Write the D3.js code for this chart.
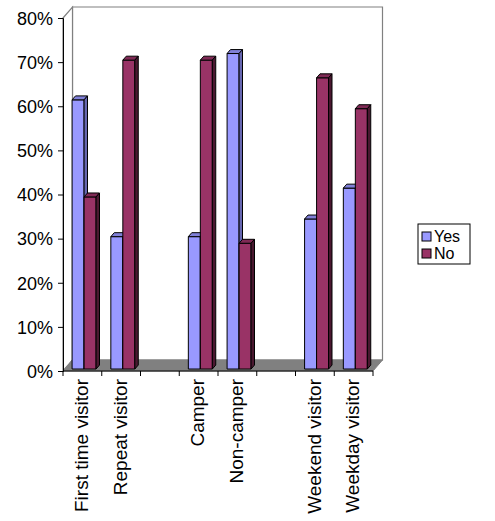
<!DOCTYPE html>
<html>
<head>
<meta charset="utf-8">
<script src="https://cdn.jsdelivr.net/npm/d3@7"></script>
<style>
  html, body { margin: 0; padding: 0; background: #fff; }
  svg { display: block; font-family: "Liberation Sans", Arial, sans-serif; }
</style>
</head>
<body>
<svg id="chart" width="495" height="521"></svg>
<script>
// Visitor groups; empty slots separate the three pairs
const categories = ["First time visitor", "Repeat visitor", "", "Camper", "Non-camper", " ", "Weekend visitor", "Weekday visitor"];
const seriesNames = ["Yes", "No"];
const yesValues = [0.61, 0.30, null, 0.30, 0.715, null, 0.34, 0.41];
const noValues  = [0.39, 0.70, null, 0.70, 0.285, null, 0.66, 0.59];
const tickValues = [0, 0.1, 0.2, 0.3, 0.4, 0.5, 0.6, 0.7, 0.8];

const colors = {
  Yes: { front: "#9999FF", top: "#8080D8", side: "#6666B0" },
  No:  { front: "#993366", top: "#7F2A55", side: "#4A1830" }
};

const svg = d3.select("#chart");

// Front plane of the 3D box
const x0 = 63, x1 = 373, yBase = 371;
const x = d3.scaleBand().domain(categories).range([x0, x1]).padding(0);
const y = d3.scaleLinear().domain([0, 0.8]).range([yBase, 18]);

// Depth projection: z in [0,1] shifts right and up
const DX = 9.5, DY = 11;
const P = (px, py, z) => [px + z * DX, py - z * DY];
const poly = pts => pts.map(p => p.join(",")).join(" ");

// Walls and floor
const g = svg.append("g");
const yTop = y(0.8);
g.append("polygon")
  .attr("points", poly([P(x0, yTop, 1), P(x1, yTop, 1), P(x1, yBase, 1), P(x0, yBase, 1)]))
  .attr("fill", "#fff").attr("stroke", "#808080").attr("stroke-width", 1.2);
g.append("polygon")
  .attr("points", poly([P(x0, yTop, 0), P(x0, yTop, 1), P(x0, yBase, 1), P(x0, yBase, 0)]))
  .attr("fill", "#fff").attr("stroke", "#808080").attr("stroke-width", 1.2);
g.append("polygon")
  .attr("points", poly([P(x0, yBase, 0), P(x1, yBase, 0), P(x1, yBase, 1), P(x0, yBase, 1)]))
  .attr("fill", "#808080").attr("stroke", "#808080").attr("stroke-width", 1);

// Bars
const barW = 12;
const zFront = 0.18, zBack = 0.54;
const inner = d3.scaleBand().domain(seriesNames)
  .range([0, x.bandwidth()])
  .paddingInner(0)
  .paddingOuter((x.bandwidth() - 2 * barW) / (2 * barW));

const bars = [];
categories.forEach((c, i) => {
  [["Yes", yesValues[i]], ["No", noValues[i]]].forEach(([s, v]) => {
    if (v == null) return;
    bars.push({ c, s, v });
  });
});

const barG = svg.append("g").attr("stroke", "#000").attr("stroke-width", 1).attr("stroke-linejoin", "round");
bars.forEach(d => {
  const bx = x(d.c) + inner(d.s);
  const bw = inner.bandwidth();
  const yt = y(d.v), yb = y(0);
  const c = colors[d.s];
  // front face
  barG.append("polygon")
    .attr("points", poly([P(bx, yt, zFront), P(bx + bw, yt, zFront), P(bx + bw, yb, zFront), P(bx, yb, zFront)]))
    .attr("fill", c.front);
  // top face
  barG.append("polygon")
    .attr("points", poly([P(bx, yt, zFront), P(bx + bw, yt, zFront), P(bx + bw, yt, zBack), P(bx, yt, zBack)]))
    .attr("fill", c.top);
  // right side face
  barG.append("polygon")
    .attr("points", poly([P(bx + bw, yt, zFront), P(bx + bw, yt, zBack), P(bx + bw, yb, zBack), P(bx + bw, yb, zFront)]))
    .attr("fill", c.side);
});

// Value axis on the front-left edge
const yAxis = d3.axisLeft(y).tickValues(tickValues).tickFormat(d3.format(".0%")).tickSize(5).tickPadding(4);
const ya = svg.append("g").attr("transform", `translate(${x0},0)`).call(yAxis);
ya.select(".domain").attr("stroke", "#000");
ya.selectAll(".tick line").attr("stroke", "#000");
ya.selectAll(".tick text")
  .attr("font-family", "'Liberation Sans', Arial, sans-serif")
  .attr("font-size", 18)
  .attr("fill", "#000")
  .attr("x", -10).attr("dy", "0.35em");

// Category axis along the front floor edge
const xa = svg.append("g").attr("transform", `translate(0,${yBase})`);
xa.append("line").attr("x1", x0).attr("x2", x1).attr("stroke", "#000");
const boundaries = d3.range(categories.length + 1).map(i => x0 + i * x.step());
xa.selectAll("line.tick").data(boundaries).join("line")
  .attr("class", "tick")
  .attr("x1", d => d).attr("x2", d => d).attr("y1", 0).attr("y2", 5)
  .attr("stroke", "#000");
xa.selectAll("text").data(categories.filter(c => c.trim() !== "")).join("text")
  .attr("transform", d => `translate(${x(d) + x.bandwidth() / 2 - 1},8) rotate(-90)`)
  .attr("text-anchor", "end")
  .attr("dy", "0.35em")
  .attr("font-size", 19)
  .attr("fill", "#000")
  .text(d => d);

// Legend
const lg = svg.append("g").attr("transform", "translate(418,224)");
lg.append("rect").attr("x", 0).attr("y", 0).attr("width", 52).attr("height", 40)
  .attr("fill", "#fff").attr("stroke", "#000");
seriesNames.forEach((s, i) => {
  const row = lg.append("g").attr("transform", `translate(4,${8 + i * 17})`);
  row.append("rect").attr("width", 9).attr("height", 9)
    .attr("fill", colors[s].front).attr("stroke", "#000");
  row.append("text").attr("x", 12).attr("y", 4.5).attr("dy", "0.35em")
    .attr("font-size", 16).attr("fill", "#000").text(s);
});
</script>
</body>
</html>
